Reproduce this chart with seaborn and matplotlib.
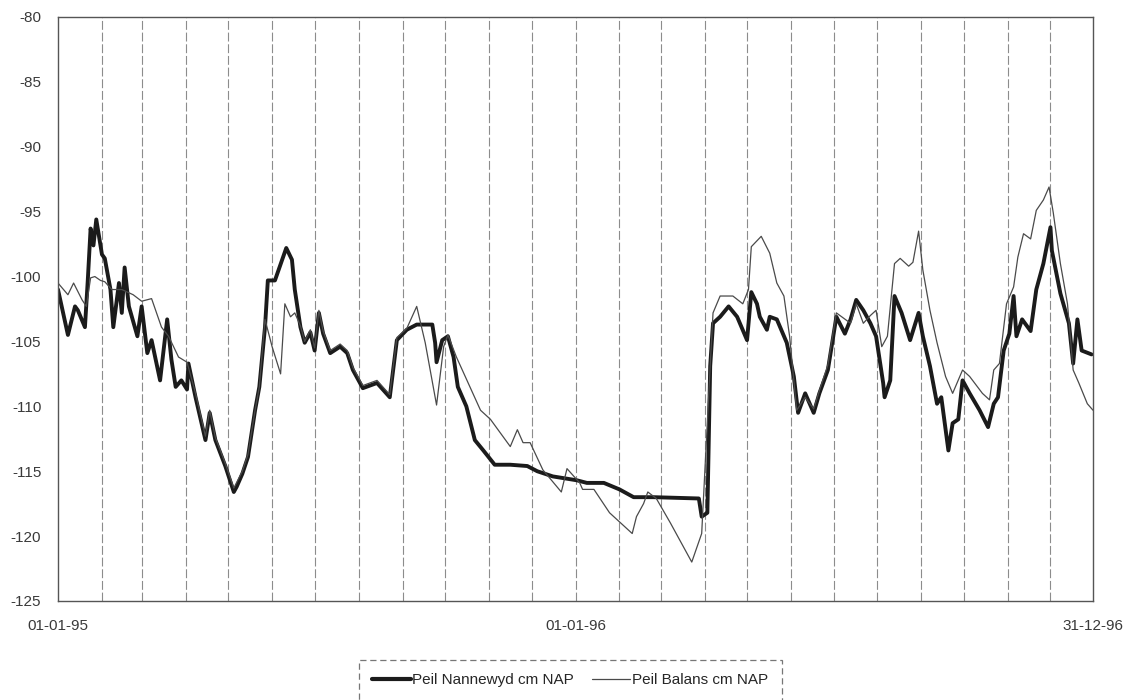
import numpy as np
import pandas as pd
import matplotlib
matplotlib.use("Agg")
import matplotlib.pyplot as plt
from matplotlib.lines import Line2D
import seaborn as sns

# Days since 1995-01-01 and levels (cm NAP)
nan_days = [0, 7, 12, 14, 19, 21, 23, 25, 27, 31, 33, 37, 39, 43, 45, 47, 50, 56, 59, 63,
            66, 72, 77, 80, 83, 87, 91, 92, 97, 104, 107, 111, 118, 124, 126, 130, 134, 139, 142, 146,
            148, 153, 161, 165, 167, 171, 174, 178, 181, 184, 187, 192, 199, 204, 208, 215, 225, 234, 239, 246,
            253, 264, 266, 267, 271, 275, 279, 282, 288, 294, 300, 308, 319, 331, 338, 349, 366, 373, 385, 396,
            406, 420, 452, 454, 458, 460, 462, 467, 473, 479, 486, 489, 493, 495, 500, 502, 507, 514, 519, 522,
            527, 533, 537, 543, 549, 555, 559, 563, 568, 573, 577, 582, 583, 587, 590, 595, 601, 607, 610, 615,
            620, 623, 628, 631, 635, 638, 643, 650, 656, 660, 663, 667, 671, 674, 676, 680, 686, 690, 695, 700,
            701, 707, 713, 716, 719, 722, 729]
nan_vals = [-101.0, -104.5, -102.3, -102.6, -103.9, -100.3, -96.3, -97.6, -95.6, -98.3, -98.6, -101.0, -103.9, -100.5, -102.8, -99.3, -102.3, -104.6, -102.3, -105.9,
            -104.9, -108.0, -103.3, -106.4, -108.5, -108.0, -108.7, -106.7, -109.3, -112.6, -110.5, -112.6, -114.6, -116.6, -116.2, -115.2, -113.9, -110.3, -108.5, -103.9,
            -100.3, -100.3, -97.8, -98.7, -101.0, -103.9, -105.1, -104.3, -105.7, -102.8, -104.4, -105.9, -105.4, -105.9, -107.2, -108.6, -108.2, -109.3, -104.9, -104.1,
            -103.7, -103.7, -105.1, -106.6, -104.9, -104.6, -106.2, -108.5, -110.0, -112.6, -113.4, -114.5, -114.5, -114.6, -115.0, -115.4, -115.7, -115.9, -115.9, -116.4,
            -117.0, -117.0, -117.1, -118.5, -118.2, -106.9, -103.6, -103.1, -102.3, -103.1, -104.9, -101.2, -102.1, -103.1, -104.1, -103.1, -103.3, -105.1, -107.7, -110.5,
            -109.0, -110.5, -109.0, -107.2, -103.1, -104.4, -103.3, -101.8, -102.6, -103.6, -104.6, -108.2, -109.3, -108.0, -101.5, -102.8, -104.9, -102.8, -104.6, -106.9,
            -109.8, -109.3, -113.4, -111.3, -111.0, -108.0, -109.0, -110.3, -111.6, -109.8, -109.3, -105.7, -104.4, -101.5, -104.6, -103.3, -104.2, -101.0, -99.0, -96.2,
            -98.0, -101.3, -103.6, -106.7, -103.3, -105.7, -106.0]

bal_days = [0, 7, 11, 17, 20, 23, 26, 30, 33, 38, 45, 53, 59, 66, 73, 78, 85, 91, 97, 104,
            107, 111, 118, 124, 130, 134, 139, 142, 146, 151, 157, 160, 164, 167, 171, 174, 178, 181, 184, 187,
            192, 199, 204, 208, 215, 225, 234, 239, 246, 253, 259, 267, 272, 275, 281, 298, 305, 319, 324, 328,
            333, 342, 355, 359, 368, 370, 378, 389, 405, 408, 413, 416, 422, 432, 447, 454, 460, 462, 467, 476,
            483, 487, 489, 496, 502, 507, 512, 516, 521, 527, 533, 537, 543, 549, 559, 563, 568, 573, 577, 581,
            585, 590, 594, 600, 603, 607, 610, 615, 620, 626, 631, 638, 643, 652, 657, 660, 664, 669, 674, 677,
            681, 686, 690, 695, 699, 702, 707, 712, 716, 720, 726, 730]
bal_vals = [-100.5, -101.4, -100.5, -101.8, -102.3, -100.1, -100.0, -100.3, -100.4, -101.0, -101.0, -101.4, -101.9, -101.7, -103.9, -104.6, -106.2, -106.6, -109.0, -112.3,
            -110.3, -112.4, -114.4, -116.3, -115.0, -113.7, -110.3, -108.5, -103.3, -105.4, -107.5, -102.1, -103.1, -102.8, -103.8, -105.0, -104.1, -105.5, -102.6, -104.2,
            -105.7, -105.2, -105.7, -107.0, -108.4, -108.0, -109.1, -104.7, -104.0, -102.3, -105.1, -109.9, -105.4, -104.5, -106.2, -110.3, -111.0, -113.1, -111.8, -112.8,
            -112.8, -114.9, -116.6, -114.8, -115.9, -116.4, -116.4, -118.2, -119.8, -118.5, -117.5, -116.6, -117.1, -119.0, -122.0, -119.8, -106.9, -102.8, -101.5, -101.5,
            -102.1, -101.0, -97.7, -96.9, -98.2, -100.5, -101.5, -104.6, -110.3, -109.3, -110.2, -108.8, -106.8, -102.8, -103.6, -102.1, -103.6, -103.0, -102.6, -105.4,
            -104.6, -99.0, -98.6, -99.2, -98.9, -96.5, -99.5, -102.6, -105.1, -107.7, -109.0, -107.2, -107.7, -109.0, -109.5, -107.2, -106.7, -102.1, -100.8, -98.5,
            -96.7, -97.1, -94.9, -94.1, -93.1, -95.1, -99.0, -102.1, -107.2, -108.2, -109.8, -110.3]

series_names = ["Peil Nannewyd cm NAP", "Peil Balans cm NAP"]
x_tick_labels = ["01-01-95", "01-01-96", "31-12-96"]
x_tick_dates = ["1995-01-01", "1996-01-01", "1996-12-31"]
y_ticks = [-80, -85, -90, -95, -100, -105, -110, -115, -120, -125]

start = pd.Timestamp("1995-01-01")
df = pd.concat([
    pd.DataFrame({"date": start + pd.to_timedelta(nan_days, unit="D"), "val": nan_vals, "serie": series_names[0]}),
    pd.DataFrame({"date": start + pd.to_timedelta(bal_days, unit="D"), "val": bal_vals, "serie": series_names[1]}),
])

sns.set_style("white")
plt.rcParams["font.family"] = ["Liberation Sans", "DejaVu Sans"]

fig = plt.figure(figsize=(11.27, 7.0), dpi=100)
ax = fig.add_axes([58 / 1127, 1 - 601 / 700, (1093 - 58) / 1127, (601 - 17) / 700])

# monthly vertical gridlines
for m in pd.date_range("1995-02-01", "1996-12-01", freq="MS"):
    ax.axvline(m, color="#8c8c8c", lw=0.8, ls=(0, (8, 2.5)), zorder=0)

sns.lineplot(data=df, x="date", y="val", hue="serie", size="serie",
             sizes={series_names[0]: 2.8, series_names[1]: 0.9},
             palette={series_names[0]: "#1b1b1b", series_names[1]: "#4a4a4a"},
             estimator=None, sort=False, ax=ax, legend=False)

ax.set_xlim(pd.Timestamp("1995-01-01"), pd.Timestamp("1996-12-31"))
ax.set_ylim(-125, -80)
ax.set_yticks(y_ticks)
ax.set_yticklabels([str(v) for v in y_ticks], fontsize=11, color="#3a3a3a")
ax.set_xticks([pd.Timestamp(d) for d in x_tick_dates])
ax.set_xticklabels(x_tick_labels, fontsize=11, color="#3a3a3a")
ax.tick_params(axis="y", length=0, pad=12)
ax.tick_params(axis="x", length=0, pad=13)
ax.set_xlabel("")
ax.set_ylabel("")
for s in ax.spines.values():
    s.set_color("#555555")
    s.set_linewidth(1.0)

handles = [Line2D([], [], color="#1b1b1b", lw=3.0), Line2D([], [], color="#4a4a4a", lw=0.9)]
leg = fig.legend(handles, series_names, loc="upper center", bbox_to_anchor=(0.506, 1 - 652 / 700),
                 ncol=2, frameon=True, fancybox=False, fontsize=11, handlelength=2.5,
                 handletextpad=0.1, columnspacing=1.2, borderpad=0.9)
leg.get_frame().set_edgecolor("#555555")
leg.get_frame().set_linestyle((0, (5, 3)))
leg.get_frame().set_linewidth(0.9)

fig.savefig("out.png", dpi=100)
